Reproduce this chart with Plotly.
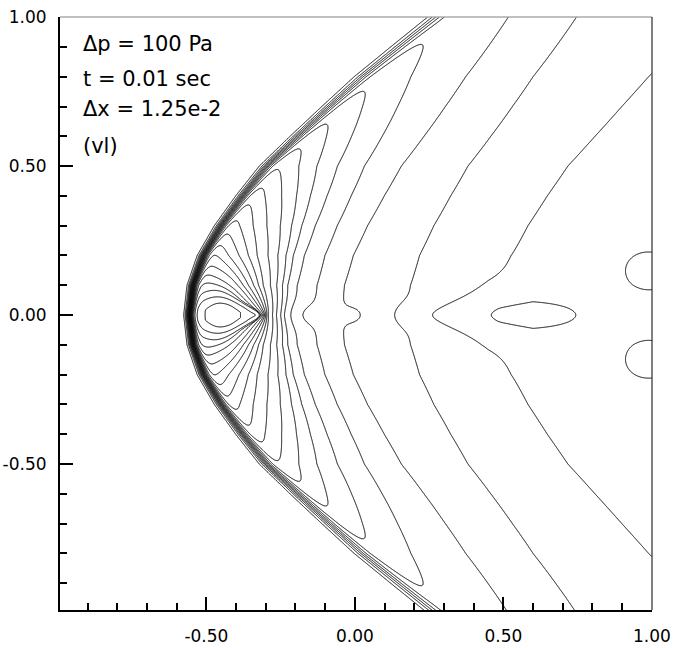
import numpy as np
import plotly.graph_objects as go

# Leading-edge position of the blast front (symmetric about y = 0) and its smear width
front_y = [0.0, 0.1, 0.2, 0.3, 0.4, 0.5, 0.6, 0.7, 0.8, 0.9, 1.0]
front_x = [-0.557, -0.545, -0.509, -0.450, -0.377, -0.297, -0.192, -0.085, 0.025, 0.148, 0.272]
front_width = [0.013, 0.014, 0.016, 0.018, 0.020, 0.022, 0.025, 0.027, 0.030, 0.032, 0.034]

# Post-front contour levels: stand-off from the front on the axis, height where the
# level meets the front, and curvature exponent of the level line
level_value = [0.3, 1, 2, 3, 4, 5, 6, 7, 8, 9, 10, 11, 12, 13, 14, 15, 16, 17, 18, 19, 20, 20.6]
level_axis = [4.5, 2.8, 1.69, 1.04, 0.734, 0.511, 0.420, 0.354, 0.324, 0.309, 0.293, 0.279,
              0.264, 0.260, 0.256, 0.253, 0.250, 0.246, 0.242, 0.238, 0.234, 0.222]
level_tip = [8.0, 5.0, 3.6, 2.6, 1.6, 1.344, 1.0, 0.83, 0.71, 0.62, 0.545, 0.48,
             0.425, 0.365, 0.315, 0.27, 0.23, 0.178, 0.14, 0.09, 0.05, 0.02]
level_shape = [2.2, 2.2, 2.2, 2.2, 2.2, 2.2, 2.2, 2.2, 2.1, 2.0, 1.9, 1.7,
               1.5, 1.4, 1.3, 1.2, 1.15, 1.1, 1.1, 1.6, 2.0, 2.0]

# Local axial shifts of the level lines near y = 0: centre x, shift, x-width, y-width
kink_x = [-0.165, 0.005]
kink_shift = [0.04, -0.07]
kink_sx = [0.035, 0.035]
kink_sy = [0.028, 0.022]

# Low-pressure trough along the axis behind the front
trough_x = [0.00, 0.08, 0.13, 0.20, 0.26, 0.35, 0.45, 0.60, 0.75, 0.85, 0.95, 1.05]
trough_depth = [0.0, 0.08, 0.18, 0.45, 0.72, 0.95, 1.08, 1.05, 0.58, 0.25, 0.08, 0.0]
trough_width = [0.02, 0.025, 0.03, 0.03, 0.035, 0.045, 0.06, 0.065, 0.07, 0.07, 0.07, 0.07]

# Contour levels drawn
contour_start, contour_end, contour_step = 1, 22, 1

# Axis ticks
x_tick_vals = [-0.5, 0.0, 0.5, 1.0]
x_tick_text = ["-0.50", "0.00", "0.50", "1.00"]
y_tick_vals = [-0.5, 0.0, 0.5, 1.0]
y_tick_text = ["-0.50", "0.00", "0.50", "1.00"]

# Label block
info_lines = ["\u0394p = 100 Pa", "t = 0.01 sec", "\u0394x = 1.25e-2", "(vl)"]
info_y = [0.909, 0.791, 0.693, 0.566]

# ---- build the field on a regular grid ----
x = np.linspace(-1.0, 1.0, 701)
y = np.linspace(-1.0, 1.0, 701)
Lf = np.linspace(level_value[0], level_value[-1], 900)
Df = np.interp(Lf, level_value, level_axis)
Yf = np.interp(Lf, level_value, level_tip)
Qf = np.interp(Lf, level_value, level_shape)

base = np.empty((len(y), len(x)))
jump = np.empty((len(y), len(x)))
for j, yy in enumerate(y):
    ay = abs(yy)
    xf = np.interp(ay, front_y, front_x)
    wf = np.interp(ay, front_y, front_width)
    t = np.minimum(ay / Yf, 1.0)
    C = np.maximum(Df * (1.0 - t ** Qf), 0.0) + 1e-7 * (Lf[-1] - Lf)
    Cr = np.maximum.accumulate(C[::-1])
    shift = np.zeros_like(x)
    for cx, a, sx, sy in zip(kink_x, kink_shift, kink_sx, kink_sy):
        shift += a * np.exp(-0.5 * (((x - cx) / sx) ** 2 + (yy / sy) ** 2))
    d = x - xf
    base[j] = np.interp(np.maximum(d + shift, 1e-5), Cr, Lf[::-1])
    jump[j] = 0.5 * (1.0 + np.tanh(d / wf))

X, Yg = np.meshgrid(x, y)
AY = np.abs(Yg)
core = 2.3 * np.exp(-0.5 * (((X + 0.445) / 0.06) ** 2 + (Yg / 0.09) ** 2))
tdep = np.interp(X, trough_x, trough_depth)
twid = np.interp(X, trough_x, trough_width)
trough = -tdep * np.exp(-0.5 * (Yg / twid) ** 2)
lobes = -0.6 * np.exp(-0.5 * (((X - 0.97) / 0.06) ** 2 + ((AY - 0.155) / 0.05) ** 2))

Z = jump * (base + core + trough + lobes)

fig = go.Figure(
    go.Contour(
        x=x, y=y, z=Z.astype(np.float32),
        contours=dict(start=contour_start, end=contour_end, size=contour_step, coloring="lines"),
        colorscale=[[0, "black"], [1, "black"]],
        line=dict(color="black", width=1, smoothing=0),
        showscale=False,
        hoverinfo="skip",
    )
)

tick_font = dict(family="DejaVu Sans", size=17, color="black")
fig.update_xaxes(
    range=[-0.993, 1.0005], tickmode="array", tickvals=x_tick_vals, ticktext=x_tick_text,
    ticks="inside", ticklen=13, tickwidth=2, tickcolor="black",
    minor=dict(tickmode="linear", tick0=0, dtick=0.1, ticks="inside", ticklen=7,
               tickwidth=2, tickcolor="black"),
    showline=True, linecolor="black", linewidth=2, mirror=False, automargin=False,
    showgrid=False, zeroline=False, tickfont=tick_font, ticklabelstandoff=10,
)
fig.update_yaxes(
    range=[-0.99, 1.0005], tickmode="array", tickvals=y_tick_vals, ticktext=y_tick_text,
    ticks="inside", ticklen=13, tickwidth=2, tickcolor="black",
    minor=dict(tickmode="linear", tick0=0, dtick=0.1, ticks="inside", ticklen=7,
               tickwidth=2, tickcolor="black"),
    showline=True, linecolor="black", linewidth=2, mirror=False, automargin=False,
    showgrid=False, zeroline=False, tickfont=tick_font, ticklabelstandoff=8,
)

for txt, ty in zip(info_lines, info_y):
    fig.add_annotation(x=-0.921, y=ty, xref="x", yref="y", text=txt, showarrow=False,
                       xanchor="left", yanchor="middle",
                       font=dict(family="DejaVu Sans", size=21, color="black"))

# frame: light top edge, thin right edge
fig.add_shape(type="line", xref="paper", yref="paper", x0=0, x1=1, y0=1, y1=1,
              line=dict(color="#808080", width=1))
fig.add_shape(type="line", xref="paper", yref="paper", x0=1, x1=1, y0=0, y1=1,
              line=dict(color="black", width=1))

fig.update_layout(
    width=675, height=648, margin=dict(l=60, r=23, t=17, b=38),
    plot_bgcolor="white", paper_bgcolor="white", showlegend=False,
)

fig.write_html("out.html")
